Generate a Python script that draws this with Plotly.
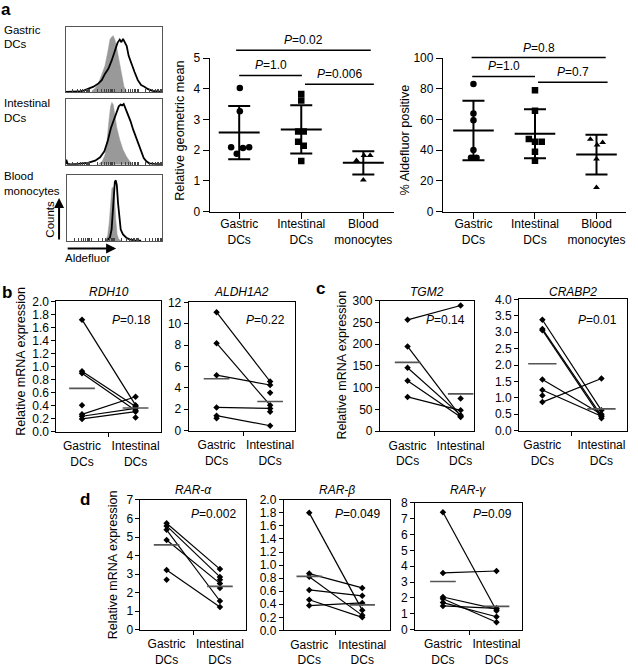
import numpy as np
import plotly.graph_objects as go

W, H = 638, 670
FONT = "Liberation Sans, Arial, Helvetica, sans-serif"

# ======================= DATA =======================
# Panel a - flow histograms (x: channel 0-100 across 4 log decades, y: relative counts)
gastric_ctrl_x = [27.1, 30.5, 33.9, 37.3, 40.7, 43.4, 45.8, 47.5, 49.2, 50.8, 52.5, 54.9, 57.6, 60.3, 62.7]
gastric_ctrl_y = [2.0, 5.9, 13.4, 25.7, 40.6, 60.4, 80.2, 84.2, 86.1, 80.2, 70.3, 50.5, 28.2, 8.4, 2.0]
gastric_ald_x = [0, 13.6, 18.6, 23.7, 28.8, 33.9, 37.3, 40.7, 44.1, 47.5, 50.8, 53.6, 55.9, 57.6, 59.3,
                 61.0, 63.1, 65.1, 67.8, 71.2, 74.6, 78.0, 81.4, 84.7, 89.8, 94.9, 100]
gastric_ald_y = [0.5, 1.0, 2.5, 5.0, 8.4, 13.4, 18.3, 28.2, 35.6, 48.0, 62.9, 75.2, 80.2, 76.2, 81.2,
                 76.2, 70.3, 55.4, 43.1, 30.7, 18.3, 10.9, 8.4, 5.0, 2.0, 1.0, 0.5]

intest_ctrl_x = [33.9, 37.9, 40.7, 42.7, 44.7, 46.4, 47.8, 49.2, 50.8, 52.9, 55.9, 59.3, 62.7, 66.1, 69.5]
intest_ctrl_y = [0.5, 5.1, 15.2, 35.5, 66.0, 88.8, 94.9, 91.4, 76.1, 55.8, 38.1, 22.8, 12.7, 5.1, 0.5]
intest_ald_x = [0, 0.7, 2.0, 5.1, 13.6, 23.7, 30.5, 35.6, 40.0, 43.4, 46.8, 50.2, 52.9, 54.9, 56.9,
                58.3, 60.0, 61.7, 64.4, 67.1, 69.8, 72.5, 75.3, 78.0, 80.7, 83.4, 86.4, 91.5, 100]
intest_ald_y = [1.0, 7.6, 1.0, 0.5, 1.0, 3.0, 6.1, 11.2, 20.3, 35.5, 55.8, 71.1, 81.2, 88.8, 91.4,
                90.4, 92.4, 86.3, 76.1, 66.0, 53.3, 43.1, 30.5, 20.3, 10.2, 5.1, 2.0, 1.0, 0.5]

blood_ctrl_x = [39.7, 42.4, 44.1, 45.5, 46.9, 48.3, 49.7, 51.0, 52.4, 54.1, 56.9]
blood_ctrl_y = [0.5, 7.5, 27.5, 62.5, 80.0, 82.5, 67.5, 32.5, 10.0, 2.5, 0.5]
blood_ald_x = [41.4, 44.8, 46.6, 47.9, 49.0, 50.0, 51.0, 52.1, 53.4, 54.8, 56.2, 58.6, 62.1, 65.5, 70.7, 77.6]
blood_ald_y = [0.5, 5.0, 17.5, 47.5, 77.5, 90.0, 92.5, 85.0, 57.5, 32.5, 17.5, 10.0, 5.0, 2.5, 1.0, 0.5]

hist_labels = [("Gastric", "DCs"), ("Intestinal", "DCs"), ("Blood", "monocytes")]

# Panel a - dot plots
group_labels = ["Gastric<br>DCs", "Intestinal<br>DCs", "Blood<br>monocytes"]
rgm_gastric = [4.03, 3.27, 2.10, 1.89, 2.07, 2.10]
rgm_gastric_jitter = [0.01, 0.01, -0.13, -0.04, 0.06, 0.16]
rgm_intestinal = [3.83, 3.62, 2.61, 2.61, 2.28, 2.15, 1.65]
rgm_intestinal_jitter = [0, 0, -0.05, 0.04, -0.05, 0.04, 0]
rgm_blood = [1.67, 1.83, 1.83, 1.03]
rgm_blood_jitter = [-0.11, 0.01, 0.11, 0]
rgm_pvalues = ["0.02", "1.0", "0.006"]
rgm_bracket_levels = [5.26, 4.44, 4.15]

ald_gastric = [83.2, 64.0, 59.6, 40.2, 35.1, 35.1]
ald_gastric_jitter = [0, 0, 0, 0, -0.04, 0.05]
ald_intestinal = [79.1, 65.7, 47.4, 45.5, 45.5, 39.1, 33.2]
ald_intestinal_jitter = [0, 0, -0.1, 0, 0.11, 0, 0]
ald_blood = [47.2, 45.1, 43.4, 34.3, 15.8]
ald_blood_jitter = [-0.1, 0.1, 0.01, 0, 0]
ald_pvalues = ["0.8", "1.0", "0.7"]
ald_bracket_levels = [100.4, 88.1, 84.4]

# Panels b-d - paired mRNA expression (None = no partner)
pair_labels = ["Gastric<br>DCs", "Intestinal<br>DCs"]
rdh10_gastric = [1.72, 0.93, 0.90, 0.27, 0.24, 0.20, 0.41, None]
rdh10_intestinal = [0.41, 0.39, 0.33, 0.54, 0.36, 0.31, None, 0.22]
aldh1a2_gastric = [11.08, 8.18, 5.19, 2.17, 1.40, 1.15, None, None]
aldh1a2_intestinal = [4.60, 2.38, 4.27, 2.08, 0.46, None, 3.54, 1.77]
tgm2_gastric = [256, 195, 146, 116, 79, None]
tgm2_intestinal = [289, 34, 37, 33, 48, 75]
crabp2_gastric = [3.38, 3.10, 3.06, 1.56, 1.24, 0.87, 1.07]
crabp2_intestinal = [0.62, 0.45, 0.38, 0.50, 0.44, 1.59, None]
rara_gastric = [5.74, 5.60, 5.39, 4.84, 3.22, 2.69, None, None]
rara_intestinal = [3.27, 2.85, 1.55, 2.50, 1.23, None, 2.70, 2.25]
rarb_gastric = [1.80, 0.87, 0.82, 0.62, 0.47, 0.38]
rarb_intestinal = [0.31, 0.65, 0.23, 0.53, 0.20, 0.42]
rarg_gastric = [7.41, 3.58, 2.06, 1.95, 1.71, 1.50]
rarg_intestinal = [1.19, 3.70, 1.30, 0.47, 0.82, 1.35]

gene_names = ["RDH10", "ALDH1A2", "TGM2", "CRABP2", "RAR-α", "RAR-β", "RAR-γ"]
gene_pvalues = ["0.18", "0.22", "0.14", "0.01", "0.002", "0.049", "0.09"]

# ======================= FIGURE =======================
fig = go.Figure()
annotations = []
shapes = []
layout = dict(width=W, height=H, margin=dict(l=0, r=0, t=0, b=0),
              paper_bgcolor="white", plot_bgcolor="white", showlegend=False,
              font=dict(family=FONT, size=12, color="black"))
AX = {}


def make_axes(i, xpx, ypx, xr, yr, xkw=None, ykw=None):
    xid = "x" if i == 1 else f"x{i}"
    yid = "y" if i == 1 else f"y{i}"
    xk = dict(domain=[xpx[0] / W, xpx[1] / W], range=xr, anchor=yid, showgrid=False,
              zeroline=False, fixedrange=True)
    yk = dict(domain=[1 - ypx[1] / H, 1 - ypx[0] / H], range=yr, anchor=xid, showgrid=False,
              zeroline=False, fixedrange=True)
    xk.update(xkw or {})
    yk.update(ykw or {})
    layout["xaxis" if i == 1 else f"xaxis{i}"] = xk
    layout["yaxis" if i == 1 else f"yaxis{i}"] = yk
    AX[i] = dict(xid=xid, yid=yid, xpx=xpx, ypx=ypx, xr=xr, yr=yr)


def ypix(i, v):
    a = AX[i]
    return a["ypx"][1] - (v - a["yr"][0]) / (a["yr"][1] - a["yr"][0]) * (a["ypx"][1] - a["ypx"][0])


def ann(text, xp, yp, size=12, xanchor="center", yanchor="middle", angle=0, **kw):
    d = dict(text=text, x=xp / W, y=1 - yp / H, xref="paper", yref="paper", showarrow=False,
             xanchor=xanchor, yanchor=yanchor, textangle=angle,
             font=dict(family=FONT, size=size, color="black"))
    d.update(kw)
    annotations.append(d)


# ---------- panel a: histograms ----------
log_ticks = [25 * (d + np.log10(k)) for d in range(4) for k in range(1, 10)] + [100]
hist_sets = [
    (1, (66.7, 165), (20, 87), gastric_ctrl_x, gastric_ctrl_y, gastric_ald_x, gastric_ald_y),
    (2, (66.7, 165), (94, 161), intest_ctrl_x, intest_ctrl_y, intest_ald_x, intest_ald_y),
    (3, (68.3, 165), (172, 239), blood_ctrl_x, blood_ctrl_y, blood_ald_x, blood_ald_y),
]
for i, xpx, ypx, cx, cy, ax_, ay_ in hist_sets:
    make_axes(i, xpx, ypx, [0, 100], [0, 100],
              xkw=dict(showline=True, mirror=True, linecolor="#555", linewidth=1,
                       tickmode="array", tickvals=log_ticks, ticks="inside", ticklen=3,
                       tickcolor="#444", showticklabels=False),
              ykw=dict(showline=True, mirror=True, linecolor="#555", linewidth=1,
                       showticklabels=False, ticks=""))
    a = AX[i]
    fig.add_trace(go.Scatter(x=cx, y=cy, mode="lines", fill="tozeroy", fillcolor="#999999",
                             line=dict(color="#999999", width=0.5), xaxis=a["xid"], yaxis=a["yid"]))
    fig.add_trace(go.Scatter(x=ax_, y=ay_, mode="lines", line=dict(color="black", width=1.8),
                             xaxis=a["xid"], yaxis=a["yid"]))

for (l1, l2), yc in zip(hist_labels, [23, 98, 173]):
    ann(l1, 2, yc, size=11.5, xanchor="left")
    ann(l2, 2, yc + 15, size=11.5, xanchor="left")
ann("Counts", 51, 217, size=11.5, angle=-90)
ann("Aldefluor", 89, 256, size=11.5)
annotations.append(dict(x=60 / W, y=1 - 195 / H, xref="paper", yref="paper", ax=0, ay=43,
                        showarrow=True, arrowhead=2, arrowsize=1, arrowwidth=2, arrowcolor="black", text=""))
annotations.append(dict(x=118 / W, y=1 - 246.7 / H, xref="paper", yref="paper", ax=-50, ay=0,
                        showarrow=True, arrowhead=2, arrowsize=1, arrowwidth=2, arrowcolor="black", text=""))

# ---------- panel a: dot plots ----------
dot_axis = dict(showline=True, linecolor="black", linewidth=1.2, ticks="outside", ticklen=6,
                tickcolor="black", tickfont=dict(size=12))


def dot_panel(i, xpx, xr, yr, dtick, groups, pvalues, levels, spans, title, title_x, title_y):
    make_axes(i, xpx, (52.3, 209), xr, yr,
              xkw=dict(dot_axis, tickmode="array", tickvals=[0, 1, 2], ticktext=group_labels,
                       ticklabelstandoff=-5),
              ykw=dict(dot_axis, tickmode="linear", tick0=0, dtick=dtick))
    a = AX[i]
    symbols = ["circle", "square", "triangle-up"]
    sizes = [6.5, 6.5, 6]
    for k, (vals, jit) in enumerate(groups):
        fig.add_trace(go.Scatter(x=[k + j for j in jit], y=vals, mode="markers",
                                 marker=dict(symbol=symbols[k], size=sizes[k], color="black"),
                                 xaxis=a["xid"], yaxis=a["yid"]))
        m = float(np.mean(vals))
        s = float(np.std(vals, ddof=1))
        fig.add_trace(go.Scatter(x=[k], y=[m], mode="markers",
                                 marker=dict(size=1, color="rgba(0,0,0,0)"),
                                 error_y=dict(type="data", array=[s], symmetric=True, color="black",
                                              thickness=2, width=11),
                                 xaxis=a["xid"], yaxis=a["yid"]))
        fig.add_trace(go.Scatter(x=[k - 0.33, k + 0.33], y=[m, m], mode="lines",
                                 line=dict(color="black", width=2), xaxis=a["xid"], yaxis=a["yid"]))
    for p, lev, (x0, x1) in zip(pvalues, levels, spans):
        yp = ypix(i, lev)
        shapes.append(dict(type="line", xref=a["xid"], yref="paper", x0=x0, x1=x1,
                           y0=1 - yp / H, y1=1 - yp / H, line=dict(color="black", width=1.5)))
        annotations.append(dict(text=f"<i>P</i>=" + p, x=(x0 + x1) / 2, xref=a["xid"],
                                y=1 - (yp - 1) / H, yref="paper", showarrow=False,
                                xanchor="center", yanchor="bottom",
                                font=dict(family=FONT, size=12, color="black")))
    ann(title, title_x, title_y, size=12.7, angle=-90)


dot_panel(4, (213, 400), [-0.476, 2.49], [0, 5], 1,
          [(rgm_gastric, rgm_gastric_jitter), (rgm_intestinal, rgm_intestinal_jitter),
           (rgm_blood, rgm_blood_jitter)],
          rgm_pvalues, rgm_bracket_levels, [(-0.05, 2.12), (0.0, 1.01), (1.06, 2.17)],
          "Relative geometric mean", 183.3, 126)
dot_panel(5, (450, 636), [-0.496, 2.48], [0, 100], 20,
          [(ald_gastric, ald_gastric_jitter), (ald_intestinal, ald_intestinal_jitter),
           (ald_blood, ald_blood_jitter)],
          ald_pvalues, ald_bracket_levels, [(-0.03, 2.15), (-0.02, 1.0), (1.05, 2.18)],
          "% Aldefluor positive", 411.7, 136)

# ---------- panels b-d: paired plots ----------
pair_axis = dict(showline=True, mirror=True, linecolor="black", linewidth=1)
pair_specs = [
    # axis id, x px, y px, x range, y max, dtick, fmt, gastric, intestinal
    (6, (57.3, 163.3), (300.7, 434), [-0.478, 1.47], 2, 0.2, ".1f", rdh10_gastric, rdh10_intestinal),
    (7, (191.7, 300), (301.7, 432.7), [-0.52, 1.47], 12, 2, "d", aldh1a2_gastric, aldh1a2_intestinal),
    (8, (386, 482), (300, 433.3), [-0.52, 1.26], 300, 50, "d", tgm2_gastric, tgm2_intestinal),
    (9, (527.3, 636.7), (298.6, 432.7), [-0.395, 1.428], 4, 0.5, ".1f", crabp2_gastric, crabp2_intestinal),
    (10, (142.7, 250), (503.5, 636), [-0.49, 1.49], 7, 1, "d", rara_gastric, rara_intestinal),
    (11, (288.3, 396), (503.3, 636.7), [-0.48, 1.52], 2, 0.2, ".1f", rarb_gastric, rarb_intestinal),
    (12, (421.7, 530), (506.4, 636), [-0.52, 1.47], 8, 1, "d", rarg_gastric, rarg_intestinal),
]
for n, (i, xpx, ypx, xr, ymax, dt, fmt, gv, iv) in enumerate(pair_specs):
    make_axes(i, xpx, ypx, xr, [0, ymax],
              xkw=dict(pair_axis, tickmode="array", tickvals=[0, 1], ticktext=pair_labels, ticks="",
                       tickfont=dict(size=12), ticklabelstandoff=3,
                       minor=dict(tickmode="array", tickvals=[0.5], ticks="outside", ticklen=4,
                                  tickcolor="black")),
              ykw=dict(pair_axis, tickmode="linear", tick0=0, dtick=dt, tickformat=fmt,
                       ticks="outside", ticklen=4, tickcolor="black", tickfont=dict(size=12)))
    a = AX[i]
    lx, ly = [], []
    for g, v in zip(gv, iv):
        if g is not None and v is not None:
            lx += [0, 1, None]
            ly += [g, v, None]
    fig.add_trace(go.Scatter(x=lx, y=ly, mode="lines", line=dict(color="black", width=1.2),
                             xaxis=a["xid"], yaxis=a["yid"]))
    gs = [g for g in gv if g is not None]
    ins = [v for v in iv if v is not None]
    fig.add_trace(go.Scatter(x=[0] * len(gs) + [1] * len(ins), y=gs + ins, mode="markers",
                             marker=dict(symbol="diamond", size=5, color="black"),
                             xaxis=a["xid"], yaxis=a["yid"]))
    mx, my = [], []
    for k, vals in enumerate([gs, ins]):
        m = float(np.mean(vals))
        mx += [k - 0.24, k + 0.24, None]
        my += [m, m, None]
    fig.add_trace(go.Scatter(x=mx, y=my, mode="lines", line=dict(color="#555555", width=1.6),
                             xaxis=a["xid"], yaxis=a["yid"]))
    title_y = 291 if i < 10 else 493
    p_y = 320 if i < 10 else 517.5
    ann(f"<i>{gene_names[n]}</i>", (xpx[0] + xpx[1]) / 2, title_y, size=12)
    ann(f"<i>P</i>={gene_pvalues[n]}", xpx[1] - 8, p_y, size=12, xanchor="right")

ann("Relative mRNA expression", 21.7, 362, size=12.5, angle=-90)
ann("Relative mRNA expression", 347.5, 366, size=12.5, angle=-90)
ann("Relative mRNA expression", 115, 570, size=12.5, angle=-90)

# panel letters
for letter, xp, yp in [("a", 6, 3), ("b", 7, 292), ("c", 326, 287), ("d", 86, 503)]:
    ann(f"<b>{letter}</b>", xp, yp, size=17)

layout["annotations"] = annotations
layout["shapes"] = shapes
fig.update_layout(**layout)
fig.write_html("out.html", config={"displayModeBar": False},
               post_script="document.body.style.margin='0px';")
